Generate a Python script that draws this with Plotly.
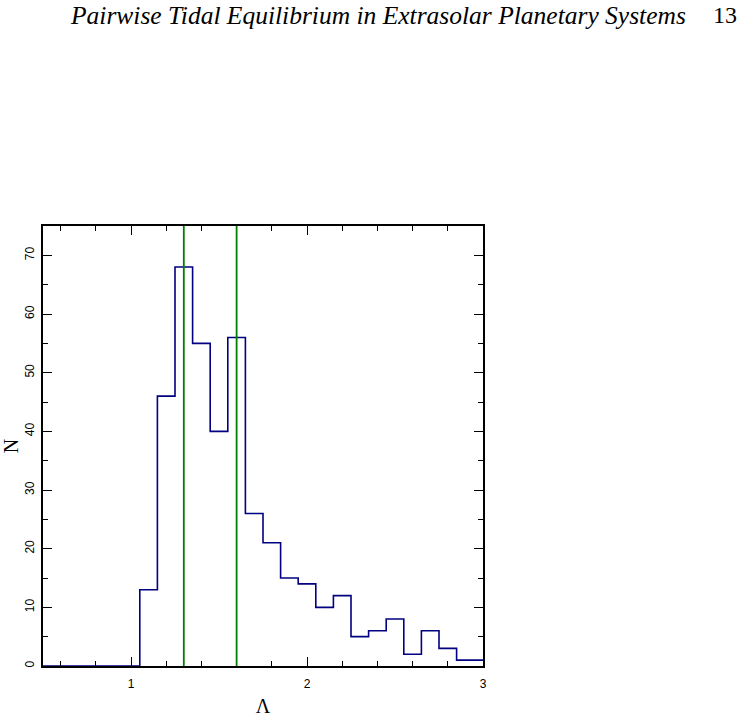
import plotly.graph_objects as go

# Histogram data: bin centers and counts (bin width 0.1)
bin_centers = [0.5, 0.6, 0.7, 0.8, 0.9, 1.0, 1.1, 1.2, 1.3, 1.4, 1.5, 1.6, 1.7,
               1.8, 1.9, 2.0, 2.1, 2.2, 2.3, 2.4, 2.5, 2.6, 2.7, 2.8, 2.9, 3.0]
counts = [0, 0, 0, 0, 0, 0, 13, 46, 68, 55, 40, 56, 26,
          21, 15, 14, 10, 12, 5, 6, 8, 2, 6, 3, 1, 1]
bin_width = 0.1
reference_lines = [1.3, 1.6]

x_ticks = [1, 2, 3]
y_ticks = [0, 10, 20, 30, 40, 50, 60, 70]

# step outline built from bin edges
xs = [c - bin_width / 2 for c in bin_centers] + [bin_centers[-1] + bin_width / 2]
ys = counts + [counts[-1]]

fig = go.Figure()
fig.add_trace(go.Scatter(x=xs, y=ys, mode="lines", line_shape="hv",
                         line=dict(color="#000080", width=1.6),
                         showlegend=False, hoverinfo="skip"))
for xv in reference_lines:
    fig.add_shape(type="line", x0=xv, x1=xv, xref="x", y0=0, y1=1, yref="paper",
                  line=dict(color="#008000", width=1.8))

axis_common = dict(showline=True, linecolor="black", linewidth=1.8, mirror="allticks",
                   ticks="inside", ticklen=9, tickwidth=1, tickcolor="black",
                   showgrid=False, zeroline=False, automargin=False,
                   tickfont=dict(family="Liberation Sans", size=12, color="black"))

fig.update_xaxes(range=[0.5, 3.0], tickvals=x_ticks, ticktext=[str(v) for v in x_ticks],
                 ticklabelstandoff=6,
                 minor=dict(dtick=0.2, tick0=0, ticks="inside", ticklen=5, tickcolor="black",
                            showgrid=False),
                 title=dict(text="Λ", font=dict(family="Liberation Serif", size=20, color="black"),
                            standoff=9),
                 **axis_common)
fig.update_yaxes(range=[0, 75], tickvals=y_ticks, ticktext=[str(v) for v in y_ticks],
                 tickangle=-90, ticklabelstandoff=2,
                 minor=dict(dtick=5, tick0=0, ticks="inside", ticklen=5, tickcolor="black",
                            showgrid=False),
                 title=dict(text="N", font=dict(family="Liberation Serif", size=20, color="black"),
                            standoff=6),
                 **axis_common)

fig.add_annotation(text="<i>Pairwise Tidal Equilibrium in Extrasolar Planetary Systems</i>",
                   xref="paper", yref="paper", x=(68 - 43) / 440, y=(666 - 15) / 440,
                   xanchor="left", yanchor="middle", showarrow=False,
                   font=dict(family="Liberation Serif", size=25.5, color="black"))
fig.add_annotation(text="13", xref="paper", yref="paper", x=(739 - 43) / 440, y=(666 - 15) / 440,
                   xanchor="right", yanchor="middle", showarrow=False,
                   font=dict(family="Liberation Serif", size=24, color="black"))

fig.update_layout(width=745, height=724, margin=dict(l=43, r=262, t=226, b=58),
                  paper_bgcolor="white", plot_bgcolor="white")

fig.write_html("out.html")
